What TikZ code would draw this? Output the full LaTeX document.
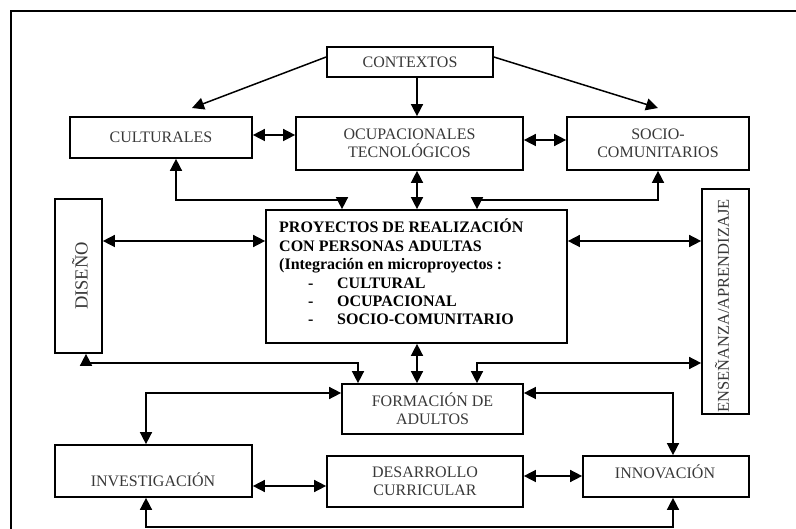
\documentclass[tikz,border=0pt]{standalone}
\usepackage{fontspec}
\setmainfont{Liberation Serif}
\usetikzlibrary{arrows.meta,calc}

\begin{document}
\begin{tikzpicture}[x=1pt,y=-1pt,
  box/.style={draw, line width=1.7pt, inner sep=0pt, align=center,
    font=\fontsize{16}{18}\selectfont, text=black!78},
  txt/.style={inner sep=0pt, align=center,
    font=\fontsize{16}{18}\selectfont, text=black!78},
  link/.style={line width=1.5pt, -{Triangle[length=12pt,width=12pt]}},
  both/.style={line width=1.5pt, {Triangle[length=12pt,width=12pt]}-{Triangle[length=12pt,width=12pt]}}]

\useasboundingbox (0,0) rectangle (796,529);

% outer frame
\draw[line width=1.3pt] (11,540) -- (11,11) -- (810,11);

% boxes
\node[box, minimum width=166pt, minimum height=30pt] (ctx) at (410,62) {CONTEXTOS};
\node[box, minimum width=182pt, minimum height=41pt] (cul) at (161,137.5) {CULTURALES};
\node[box, minimum width=227pt, minimum height=53pt] (ocu) at (409.5,143.5) {OCUPACIONALES\\TECNOLÓGICOS};
\node[box, minimum width=182pt, minimum height=53pt] (soc) at (658,143.5) {SOCIO-\\COMUNITARIOS};
\node[box, minimum width=301pt, minimum height=133pt] (pro) at (416.5,276.5) {};
\node[box, minimum width=47pt, minimum height=154pt] (dis) at (78.5,276) {};
\node[box, minimum width=47pt, minimum height=225pt] (ens) at (725.5,301.5) {};
\node[box, minimum width=181pt, minimum height=50pt] (for) at (432.5,409) {FORMACIÓN DE\\ADULTOS};
\node[box, minimum width=197pt, minimum height=52pt] (inv) at (153.5,471) {};
\node[box, minimum width=196pt, minimum height=51pt] (des) at (425,481.5) {DESARROLLO\\CURRICULAR};
\node[box, minimum width=166pt, minimum height=41pt] (inn) at (666,476.5) {};

% texts set apart from their box centres
\node[txt, rotate=90, font=\fontsize{18.5}{20}\selectfont] (dist) at (80,276) {DISEÑO};
\node[txt, rotate=90, font=\fontsize{16.5}{18}\selectfont] (enst) at (722,306) {ENSEÑANZA/APRENDIZAJE};
\node[txt] (invt) at (153,480) {INVESTIGACIÓN};
\node[txt] (innt) at (665,472) {INNOVACIÓN};
\node[inner sep=0pt, anchor=north west, align=left,
  font=\bfseries\fontsize{16}{18.4}\selectfont] (prot) at (279,219)
  {PROYECTOS DE REALIZACIÓN\\
   CON PERSONAS ADULTAS\\
   (Integración en microproyectos :\\
   \makebox[58pt][l]{\hspace*{29pt}-}CULTURAL\\
   \makebox[58pt][l]{\hspace*{29pt}-}OCUPACIONAL\\
   \makebox[58pt][l]{\hspace*{29pt}-}SOCIO-COMUNITARIO};

% routing coordinates
\coordinate (c1) at (192,108);
\coordinate (c2) at (658,108);
\coordinate (x86) at (86,0);
\coordinate (x146) at (146,0);
\coordinate (x176) at (176,0);
\coordinate (x342) at (342,0);
\coordinate (x358) at (358,0);
\coordinate (x417) at (417,0);
\coordinate (x477) at (477,0);
\coordinate (x658) at (658,0);
\coordinate (x673) at (673,0);
\coordinate (y135) at (0,135);
\coordinate (y140) at (0,140);
\coordinate (y200) at (0,200);
\coordinate (y241) at (0,241);
\coordinate (y363) at (0,363);
\coordinate (y393) at (0,393);
\coordinate (y476) at (0,476);
\coordinate (y486) at (0,486);
\coordinate (y527) at (0,527);

% connectors
\draw[link] ($(ctx.west)+(0,-5)$) -- (c1);
\draw[link] ($(ctx.east)+(0,-5)$) -- (c2);
\draw[link] (ctx.south -| x417) -- (ocu.north -| x417);
\draw[both] (cul.east |- y135) -- (ocu.west |- y135);
\draw[both] (ocu.east |- y140) -- (soc.west |- y140);
\draw[both] (cul.south -| x176) -- (x176 |- y200) -- (x342 |- y200) -- (pro.north -| x342);
\draw[both] (ocu.south -| x417) -- (pro.north -| x417);
\draw[both] (soc.south -| x658) -- (x658 |- y200) -- (x477 |- y200) -- (pro.north -| x477);
\draw[both] (dis.east |- y241) -- (pro.west |- y241);
\draw[both] (pro.east |- y241) -- (ens.west |- y241);
\draw[both] (dis.south -| x86) -- (x86 |- y363) -- (x358 |- y363) -- (for.north -| x358);
\draw[both] (pro.south -| x417) -- (for.north -| x417);
\draw[both] (for.north -| x477) -- (x477 |- y363) -- (ens.west |- y363);
\draw[both] (for.west |- y393) -- (x146 |- y393) -- (inv.north -| x146);
\draw[both] (for.east |- y393) -- (x673 |- y393) -- (inn.north -| x673);
\draw[both] (inv.east |- y486) -- (des.west |- y486);
\draw[both] (des.east |- y476) -- (inn.west |- y476);
\draw[both] (inv.south -| x146) -- (x146 |- y527) -- (x673 |- y527) -- (inn.south -| x673);

\end{tikzpicture}
\end{document}
